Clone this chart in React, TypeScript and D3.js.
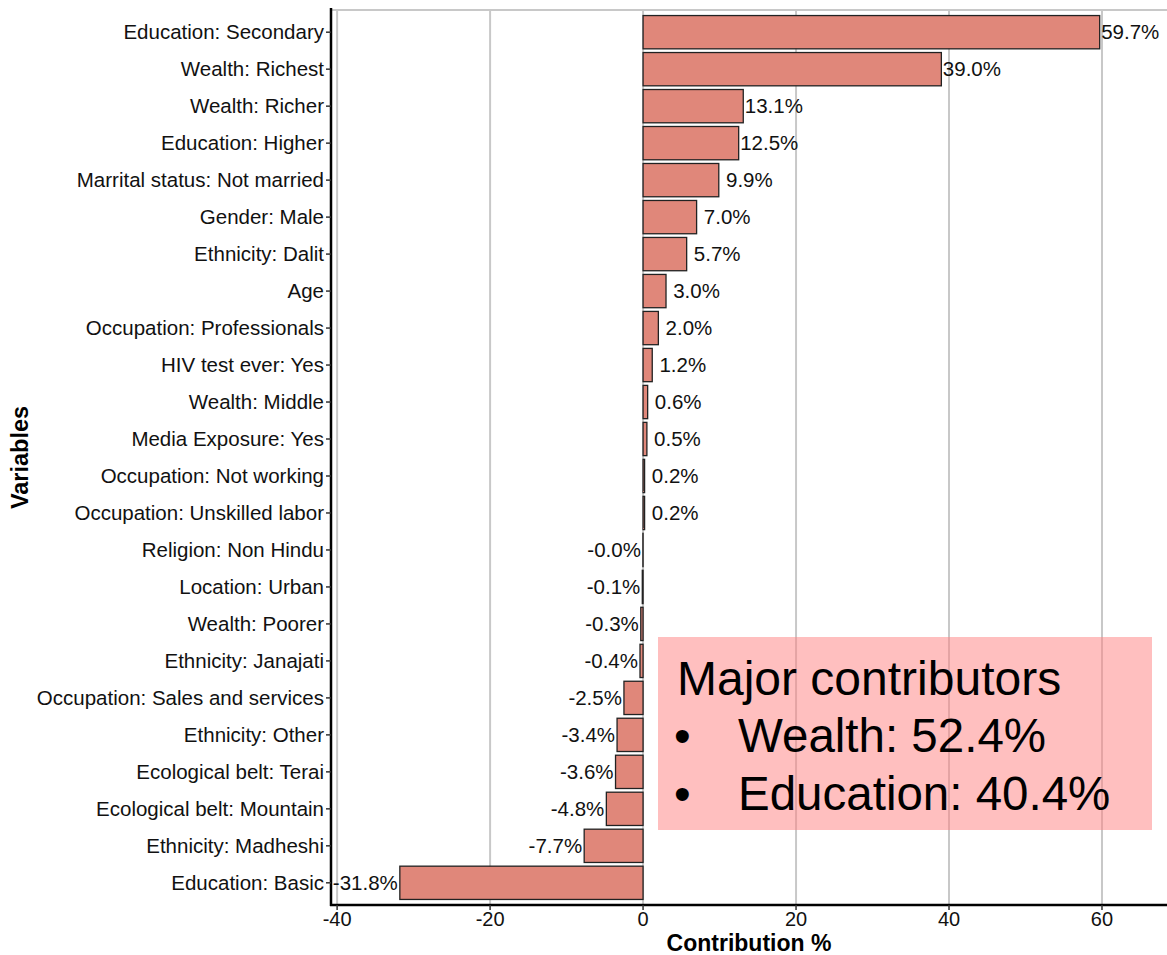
import React from "react";
import * as d3 from "d3";

const categories = [
  "Education: Secondary",
  "Wealth: Richest",
  "Wealth: Richer",
  "Education: Higher",
  "Marrital status: Not married",
  "Gender: Male",
  "Ethnicity: Dalit",
  "Age",
  "Occupation: Professionals",
  "HIV test ever: Yes",
  "Wealth: Middle",
  "Media Exposure: Yes",
  "Occupation: Not working",
  "Occupation: Unskilled labor",
  "Religion: Non Hindu",
  "Location: Urban",
  "Wealth: Poorer",
  "Ethnicity: Janajati",
  "Occupation: Sales and services",
  "Ethnicity: Other",
  "Ecological belt: Terai",
  "Ecological belt: Mountain",
  "Ethnicity: Madheshi",
  "Education: Basic",
];

const values = [
  59.7, 39.0, 13.1, 12.5, 9.9, 7.0, 5.7, 3.0, 2.0, 1.2, 0.6, 0.5, 0.2, 0.2,
  -0.02, -0.1, -0.3, -0.4, -2.5, -3.4, -3.6, -4.8, -7.7, -31.8,
];

const xTicks = [-40, -20, 0, 20, 40, 60];

const noteTitle = "Major contributors";
const noteItems = ["Wealth: 52.4%", "Education: 40.4%"];

const W = 1167;
const H = 955;
const left = 331;
const right = 1167;
const top = 10;
const bottom = 905;

const FONT = "'Liberation Sans', Arial, Helvetica, sans-serif";

function fmt(v: number) {
  const s = v.toFixed(1) + "%";
  return v >= 0 && v < 10 ? " " + s : s;
}

export default function App() {
  const x = d3.scaleLinear().domain([-40.8, 68.5]).range([left, right]);
  const y = d3
    .scaleBand<string>()
    .domain(categories)
    .range([top, bottom])
    .paddingInner(0.1)
    .paddingOuter(0.15);
  const bw = y.bandwidth();
  const x0 = x(0);

  return (
    <svg
      width={W}
      height={H}
      style={{ position: "absolute", left: 0, top: 0, background: "#fff" }}
      fontFamily={FONT}
    >
      {/* grid */}
      {xTicks.map((t) => (
        <line
          key={"g" + t}
          x1={x(t)}
          x2={x(t)}
          y1={top}
          y2={bottom}
          stroke="#c8c8c8"
          strokeWidth={2}
        />
      ))}
      <line x1={left} x2={right} y1={top} y2={top} stroke="#c8c8c8" strokeWidth={2} />

      {/* bars */}
      {categories.map((c, i) => {
        const v = values[i];
        const xa = Math.min(x(v), x0);
        const w = Math.abs(x(v) - x0);
        return (
          <rect
            key={c}
            x={xa}
            y={y(c)!}
            width={w}
            height={bw}
            fill="#e0877a"
            stroke="#222"
            strokeWidth={1.3}
          />
        );
      })}

      {/* value labels */}
      {categories.map((c, i) => {
        const v = values[i];
        const pos = v >= 0;
        return (
          <text
            key={"l" + c}
            x={pos ? x(v) + 1.5 : x(v) - 2}
            y={y(c)! + bw / 2}
            dy="0.35em"
            textAnchor={pos ? "start" : "end"}
            fontSize={20.5}
            fill="#111"
            style={{ whiteSpace: "pre" }}
          >
            {fmt(v)}
          </text>
        );
      })}

      {/* annotation box */}
      <rect x={658} y={637} width={494} height={193} fill="#ff8080" fillOpacity={0.5} />
      <text x={677} y={695} fontSize={48} fill="#000">
        {noteTitle}
      </text>
      {noteItems.map((t, i) => (
        <g key={t}>
          <text x={674} y={752 + i * 58} fontSize={47.5} fill="#000">
            •
          </text>
          <text x={738} y={752 + i * 58} fontSize={47.5} fill="#000">
            {t}
          </text>
        </g>
      ))}

      {/* y axis */}
      <line x1={left} x2={left} y1={top - 2} y2={bottom + 1} stroke="#000" strokeWidth={2.5} />
      {categories.map((c) => (
        <g key={"t" + c}>
          <line
            x1={left - 5}
            x2={left}
            y1={y(c)! + bw / 2}
            y2={y(c)! + bw / 2}
            stroke="#333"
            strokeWidth={1.5}
          />
          <text
            x={left - 7}
            y={y(c)! + bw / 2}
            dy="0.35em"
            textAnchor="end"
            fontSize={20.5}
            fill="#111"
          >
            {c}
          </text>
        </g>
      ))}

      {/* x axis */}
      <line x1={left - 1} x2={right} y1={bottom} y2={bottom} stroke="#000" strokeWidth={2.5} />
      {xTicks.map((t) => (
        <g key={"xt" + t}>
          <line x1={x(t)} x2={x(t)} y1={bottom} y2={bottom + 5} stroke="#333" strokeWidth={1.5} />
          <text x={x(t)} y={bottom + 21} textAnchor="middle" fontSize={20} fill="#111">
            {t}
          </text>
        </g>
      ))}

      {/* axis titles */}
      <text
        x={(left + right) / 2}
        y={951}
        textAnchor="middle"
        fontSize={23}
        fontWeight="bold"
        fill="#000"
      >
        Contribution %
      </text>
      <text
        transform={`translate(28, ${(top + bottom) / 2}) rotate(-90)`}
        textAnchor="middle"
        fontSize={23.5}
        fontWeight="bold"
        fill="#000"
      >
        Variables
      </text>
    </svg>
  );
}
